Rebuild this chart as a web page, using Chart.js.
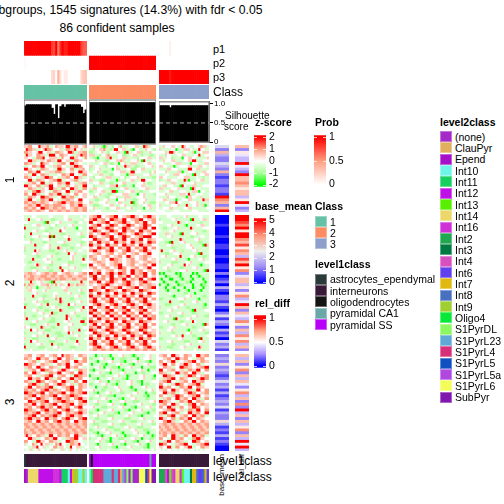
<!DOCTYPE html>
<html>
<head>
<meta charset="utf-8">
<script src="https://cdn.jsdelivr.net/npm/chart.js@4"></script>
<style>
html, body { margin: 0; padding: 0; background: #fff; }
#page { position: relative; width: 504px; height: 504px; overflow: hidden; font-family: "Liberation Sans", sans-serif; color: #000; }
#page canvas { position: absolute; }
.txt { position: absolute; white-space: nowrap; line-height: 1; }
.swatch { position: absolute; box-sizing: border-box; border: 1px solid rgba(255,255,255,0.35); }
</style>
</head>
<body>
<div id="page"></div>
<script>
// samples per class
const groupSizes = [30, 32, 24];

// consensus membership per sample (p1, p2, p3)
const p1Values = [
  [.97,1,1,1,1,1,1,1,1,1,1,1,1,.82,.78,1,.6,.85,1,.9,.9,1,1,1,1,1,1,.8,.72,.7],
  [0,0,0,0,0,0,0,0,0,0,0,0,0,0,0,0,0,0,0,0,0,0,0,0,0,0,0,0,0,0,0,0],
  [0,0,0,0,0,.07,0,0,0,0,0,0,0,0,0,0,0,0,0,0,0,0,0,0]
];
const p2Values = [
  [.03,0,0,0,0,0,0,0,0,0,0,0,0,0,0,0,0,0,0,0,0,0,0,0,0,0,0,0,0,0],
  [1,1,1,1,1,1,1,1,1,1,1,1,1,1,1,1,1,1,1,1,1,1,1,1,1,1,1,1,1,1,1,1],
  [0,0,0,0,0,0,0,0,0,0,0,0,0,0,0,0,0,0,0,0,0,0,0,0]
];
const p3Values = [
  [0,0,0,0,0,0,0,0,0,0,0,0,0,.18,.22,0,.4,.15,0,.1,.1,0,0,0,0,0,0,.2,.28,.3],
  [0,0,0,0,0,0,0,0,0,0,0,0,0,0,0,0,0,0,0,0,0,0,0,0,0,0,0,0,0,0,0,0],
  [1,1,1,1,1,.93,1,1,1,1,1,1,1,1,1,1,1,1,1,1,1,1,1,1]
];

const silhouette1 = [.91,.94,.94,.94,.94,.94,.94,.94,.94,.94,.94,.94,.94,.855,.71,.94,.61,.895,.94,.88,.94,.94,.94,.94,.94,.94,.94,.88,.73,.815];
const silhouette2 = [.99,.99,.99,.99,.99,.99,.99,.99,.99,.99,.99,.99,.99,.99,.99,.99,.99,.99,.99,.99,.99,.99,.99,.99,.99,.99,.99,.99,.99,.99,.99,.99];
const silhouette3 = [.95,.95,.95,.95,.95,.9,.95,.95,.95,.95,.95,.95,.95,.95,.95,.95,.95,.95,.95,.95,.95,.95,.95,.95];

// z-score per row, one digit per cell: 0 = -2, 4 = 0, 8 = +2 (class 1, class 2, class 3)
const heatSlice1 = [
  "556644485556334655548855664456 44533320533244563334445533865344 335444554338544334456553",
  "486655334586654445336655844533 33244556332388445533204433354432 533333440333555433384433",
  "665544588445533665544886335566 22334453324445533083344552333544 444538854333443350334555",
  "385544665533888446655443355866 55533244563333442233455332333223 333544333445533334483344",
  "554433666844555533644488554436 33220433558333445533333244445533 553344233330445544333335",
  "448855335546655388445533665544 44453333224445565333444530833344 335444553333445588333444",
  "665533448655443355664488554433 33333445532233044533555333445533 443333445553333044433355",
  "334466558844335566443355886644 55344333244445333855332233344453 554433303344445533355443",
  "885544336655443388554466335564 23344533333045533344222445533333 333355444333338844553333",
  "446655884433555666334455448855 33445332233344455533884443333245 444533333550334443333554",
  "553388446655333344665588443366 44333553332244433305553333444533 333443355544433308334455",
  "665544335588664433556644885533 33244433555333344233444533333322 554433333444555333433233",
  "448833665544556688334455663344 55333222443330533344553338844433 233355444333850333445533",
  "335566448833554466558844335566 33444553332233445533333444532233 444333553333344445333333",
  "885544663355884455336644553388 44233333445558332233304445533333 335544433308433355333444",
  "446655335544885533664488553366 33554443332223344553333344455333 553333444533333085443333",
  "553366885544336655448833556644 22334455333880333444553322333444 333445533344433355504433",
  "664488553344665588335544664455 33344533322334445553333044533332 444533333355548333444333",
  "336655448866553344885566334455 44553333224445333555333444533333 333354443333305544335333",
  "558844336655884433556655448844 33322334453330444533322344453333 445533330334445533333855",
  "665566556655445566885566556644 55333444533334553333803344533222 333445558443333444533333",
  "556655885566556666554466558855 33222334445533344533322333445533 533333444533383344533503",
  "665566448866556655664455665566 44533333224445533344533333044533 334445533333445533333334",
  "556655665544665566556655665566 33344433333333444333333443333333 444333344433333344433333"
];

const heatSlice2 = [
  "333344333333443333344333333433 55668844556688445566885544668855 333344333333453333344333",
  "338333445333322333344553333334 66885566448866558844556688445566 233333445333333083334553",
  "443333333208333445333333224433 88445566884455668855446655884466 443333333853343333332333",
  "233344553333344233333445333333 45668844558866445588664455886644 333344533333203333445533",
  "833333334433223333453333204433 88664455886644558866445566884488 332233344533333853333444",
  "333344533322333338443333333333 55886644558866448855664488556644 433334453333333343333223",
  "333833333444533333223333344533 66445588664455886644558866445588 333553333308333444533333",
  "233344453333808333344533333223 88664455668844558866445566888844 333344533333333223334433",
  "333223333444533333333853333344 44886655448866558844665588446655 443333333385333334453333",
  "444533333223333344453333333223 66448855664488556644885566448866 333220833344533333322333",
  "333338333344533333222333344533 88556644885566448855664488556644 333344533333344533333085",
  "533333333444533385333322333344 55448866558844665588446655884466 333333223333344453333333",
  "233338453333222333345333334433 66885544668855446688554466885544 383334453332333344533333",
  "333344533333333223333844533333 44556644556644556644556644558844 333223344453333333208333",
  "433333223334453333333345333322 66554455664455664488554455665544 344533333383333445333223",
  "333383333445333322333345333383 55664455448866554455664455664455 333333445333320333344533",
  "332233333344453333333222333344 44556655445566554455665544556655 533333222333344533333344",
  "433334853333223333444533333222 88445566445566884455664455664488 333344533333845333320333",
  "333222333445333338333344533333 55664455664455886644556644558844 334453333322333344533333",
  "333344533333223333844533333344 44556644556644556644885566445566 333322333344453333333208",
  "556655445566556644556655445566 88558844668855886644885566884466 020333330203333302033333",
  "655665556665566556655665556655 66884466558844665588446655884455 333022333203333033202333",
  "556665565566655656665556655566 44885566448866558844665588446688 203330033320333203333033",
  "333833445333208333443333333833 66558844668855446688554466885544 330233330233322033333203",
  "636553345556353645534855365553 55445566885544556688554466556655 033203333022333303330223",
  "353533033335533333445533333333 44665588445566884455668844556688 333033203333033302333033",
  "335544333453333333355333334533 88665544886655448866554488665544 333203333033320333320333",
  "333344533333334433333453333223 66448855664488556644885566448866 333334333333223330333333",
  "333383333223334533333333445333 88556644885566448855664488556644 333333203333344533333223",
  "533333344533333638333322333333 55884466558844665588446655884466 223333333444533333203333",
  "333344533222333338533333344533 66885544668855446688554466885544 333338333322333344533333",
  "223333445338333322333844533333 44668855446688554466885544668855 333222333344533333333203",
  "833333322333344533333222333384 88446655884466558844665588446655 533333344533322333333223",
  "333344533322333338533333344533 66884455668844556688445566884455 333344533333333208333344",
  "233333344533382233333344533333 88556644885566448855664488556644 223333333445333322333333",
  "533322333344533333338533322333 44885566448855664488556644885566 333445333322333344533322",
  "383333344533322333338453333322 66448855664488556644885566448866 333333308333344533333333",
  "333344533333222333344533333883 88665544886655448866554488665544 334453333322333384333333",
  "333222333345333383333445333322 55884466558844665588446655884466 333333223334453333333085",
  "544333338533322333344533333344 66558844668855446688554466885544 223334453333333322333344",
  "333844533322233333344533338333 88664455886644558866445588664455 333344533333320333344533",
  "233333344533333222333845333334 44886655448866554488665544886655 533333223333344533333322",
  "333344533338333322233333445333 66448855664488556644885566448866 333333445338333322333334",
  "533322233333344533333322233334 88556644885566448855664488556644 223333333445333333208333",
  "333844533333222333345333383333 55884466558844665588446655884466 333344533333222333344533",
  "233333445333383322233333445333 66885544668855446688554466885544 333333223333344533333333",
  "833333322233334453333322233333 44668855446688554466885544668855 533322233344533333385333",
  "333433333343333334333334333333 55665566556655665566556655665566 333343333334333334333333"
];

const heatSlice3 = [
  "556644556644556644856655446655 33303323320333445333202333344533 556644885544665544885566",
  "665544885566445588446655334466 22333445333033322233333033444533 445566448855664433556644",
  "445566334455668844556644885566 33320333344533322033344533322033 664455883344556688446655",
  "886655446655334466558844556644 30333322033334453332203333445333 558844664455885544663344",
  "556644885544665533448855664433 33344530333222033344533330333222 446655334488665544556688",
  "335566448866554455885544336655 22033333445333220333333445330333 884455664455336655884466",
  "664488554433665588445566448855 33344533220333344533330332233344 665533448855664488553344",
  "556644335566884455664433886655 03333322333344533302333344533330 448866554433558866445566",
  "448855664488553366445588556644 33220333344533332203333344533322 335566884466554433558866",
  "665533886644556644885533664488 33344533303332233344533220333344 556688443355664488556644",
  "446688553366445588664455336655 22333344533220333344533330322333 664433558866445566883344",
  "558844665566883344556688446655 33403332233344533332033334453333 885566443366558844665544",
  "665566446688556655446688556644 44533322333334453333220333334453 556644885544665533884466",
  "886655668844665566884466556688 33220333445333322333344533303322 448855663344558866445566",
  "556688446655668844556688665544 33344533322203333344533333220333 664433558866445566884455",
  "665544886655446688556644668855 22333344533333220333445333322333 335566448855664488553366",
  "448866556688445566886655446688 33445333320333344533322233333445 886655443366558844665544",
  "665588446655668844556688446655 33322333344533322033333445333322 556644885544336688446655",
  "556644668855664488556644668844 44533322233333445333220333344533 664488553366445588664455",
  "886655446688556644668855446655 33320333344533333220333445333322 445566884455336655884466",
  "665566884466556688446655668855 22333445333322033334453333220333 668844556633448855664488",
  "556688446655668855446688556644 33445333322233333445333220333334 553366884455664488556633",
  "668855664488556644668855446688 33322333344533333222333344533333 885544663366558844665544",
  "556644885566446688556644885566 44533322233333445333222333334453 446688553344665588446655",
  "665566556655665566556655665566 33222333344533322233333445333322 556655665566556655665566",
  "566556655665566556655665566556 33345333322233333445333222333344 655665566556655665566556",
  "655665566556655665566556655665 22333344533322233333445333222333 565566556655665566556655",
  "665566556655665566556655665566 33220333445333320333344533320333 656655665566556655665566",
  "585544665533884466556644885533 34432203333445333022333344533302 556644885533664488556633",
  "448855334466558844335566884455 23334453330333222333445330333223 664433885566443366885544",
  "664433885544665533448866554433 33344533220333344533322033344533 335588446655334488664455",
  "534465348455334658443366558443 33320333344533322033334453320333 886644335566884433556688",
  "443355844533446635543384455334 33344533333220333344533333220333 554488336644558833446655",
  "343534354434353443534354434343 33334333343333343333433334333343 434344344343443443434344"
];

// base_mean per row, digit * 5/9
const baseMean1 = "426322432621221221976269";
const baseMean2 = "000100010011001001102012031022131024132031204231";
const baseMean3 = "2325232124231312324132253121312100";
// rel_diff per row, digit / 9
const relDiff1 = "625433943296676566359423";
const relDiff2 = "998795997685763869572466352573496264375263757362";
const relDiff3 = "6362572636425736272936263572639493";

// class membership of the samples along the bottom, as runs of [name, count]
const level1Runs = [
  [["astrocytes_ependymal",1],["interneurons",29]],
  [["pyramidal SS",1],["oligodendrocytes",1],["pyramidal SS",27],["pyramidal CA1",1],["pyramidal SS",2]],
  [["interneurons",24]]
];
const level2Runs = [
  [["Epend",1],["(none)",1],["Int14",5],["Int12",7],["Int16",3],["Int12",1],["Int11",3],["Int10",1],["Int12",1],["Int7",1],["Int9",2],["Int10",2],["Int9",1],["Int10",1]],
  [["Int10",1],["Oligo4",1],["S1PyrL4",5],["S1PyrL23",4],["S1PyrL4",1],["S1PyrL23",2],["S1PyrL4",1],["ClauPyr",1],["S1PyrL23",1],["S1PyrL5a",1],["S1PyrDL",1],["(none)",1],["S1PyrDL",1],["(none)",3],["S1PyrL6",3],["S1PyrL5",1],["S1PyrL4",1],["S1PyrL6",1],["SubPyr",2]],
  [["Int2",3],["Int4",1],["Int12",1],["Int13",1],["Int4",1],["Int16",1],["Int14",2],["Int16",1],["Int13",1],["Int10",3],["Int3",1],["Int7",2],["Int8",1],["Int6",2],["Int8",1],["Int7",1],["Int6",1]]
];

const classNames = ["1", "2", "3"];
const classColors = ["#66C2A5", "#FC8D62", "#8DA0CB"];
const level1Names = ["astrocytes_ependymal", "interneurons", "oligodendrocytes", "pyramidal CA1", "pyramidal SS"];
const level1Colors = ["#2A3A38", "#381A38", "#141414", "#6AA8A8", "#B800F8"];
const level2Names = ["(none)","ClauPyr","Epend","Int10","Int11","Int12","Int13","Int14","Int16","Int2","Int3","Int4","Int6","Int7","Int8","Int9","Oligo4","S1PyrDL","S1PyrL23","S1PyrL4","S1PyrL5","S1PyrL5a","S1PyrL6","SubPyr"];
const level2Colors = ["#A528C8","#E0B060","#A610C8","#6EF5EA","#15D060","#C010E8","#58F000","#ECD868","#D030D8","#1FA850","#007A40","#D850C0","#6040F0","#E0B810","#4870C0","#A0D030","#08E838","#8CF860","#60A8D8","#D83078","#1050C0","#B048E0","#F4FC58","#8018B0"];

// colour ramps
const zStops = [[-2,"#00FF00"],[-1,"#ADFF9C"],[0,"#FFFFFF"],[1,"#FF9E81"],[2,"#FF0000"]];
const probStops = [[0,"#FFFFFF"],[.5,"#FF9E81"],[1,"#FF0000"]];
const baseStops = [[0,"#0000FF"],[1.25,"#9F8DF5"],[2.5,"#EEEEEE"],[3.75,"#FB9A7E"],[5,"#FF0000"]];
const relStops = [[0,"#0000FF"],[.25,"#AB93FF"],[.5,"#FFFFFF"],[.75,"#FF9E81"],[1,"#FF0000"]];

// layout
const groupBoxes = [[24, 63], [89, 67], [159, 50]];
const sliceBoxes = [[145, 67], [215, 136], [354, 97]];

Chart.defaults.font.family = '"Liberation Sans", sans-serif';
Chart.defaults.animation = false;
Chart.defaults.responsive = false;
Chart.defaults.events = [];
Chart.defaults.plugins.legend.display = false;
Chart.defaults.plugins.tooltip.enabled = false;

const page = document.getElementById('page');

function addCanvas(left, top, w, h) {
    const c = document.createElement('canvas');
    c.width = w;
    c.height = h;
    c.style.left = left + 'px';
    c.style.top = top + 'px';
    c.style.width = w + 'px';
    c.style.height = h + 'px';
    page.appendChild(c);
    return c;
}

function label(text, x, y, size, opts) {
    opts = opts || {};
    const s = document.createElement('span');
    s.className = 'txt';
    s.textContent = text;
    s.style.left = x + 'px';
    s.style.top = y + 'px';
    s.style.fontSize = size + 'px';
    if (opts.bold) s.style.fontWeight = 'bold';
    s.style.transform = opts.transform || 'translateY(-50%)';
    if (opts.origin) s.style.transformOrigin = opts.origin;
    page.appendChild(s);
}

function hexRgb(h) {
    return [parseInt(h.slice(1, 3), 16), parseInt(h.slice(3, 5), 16), parseInt(h.slice(5, 7), 16)];
}

function ramp(stops, v) {
    if (v <= stops[0][0]) return stops[0][1];
    for (let i = 1; i < stops.length; i++) {
        if (v <= stops[i][0]) {
            const t = (v - stops[i - 1][0]) / (stops[i][0] - stops[i - 1][0]);
            const a = hexRgb(stops[i - 1][1]);
            const b = hexRgb(stops[i][1]);
            return 'rgb(' + a.map((x, k) => Math.round(x + (b[k] - x) * t)).join(',') + ')';
        }
    }
    return stops[stops.length - 1][1];
}

// one stacked bar per column, one dataset per row
function cellChart(box, colorRows) {
    const canvas = addCanvas(box[0], box[1], box[2], box[3]);
    return new Chart(canvas, {
        type: 'bar',
        data: {
            labels: colorRows[0].map((_, i) => i),
            datasets: colorRows.map(row => ({
                data: row.map(() => 1),
                backgroundColor: row,
                borderWidth: 0,
                barPercentage: 1,
                categoryPercentage: 1
            }))
        },
        options: {
            layout: { padding: 0 },
            scales: {
                x: { display: false, stacked: true },
                y: { display: false, stacked: true, reverse: true, min: 0, max: colorRows.length }
            }
        }
    });
}

function expandRuns(runs) {
    const out = [];
    runs.forEach(r => { for (let i = 0; i < r[1]; i++) out.push(r[0]); });
    return out;
}

// heatmap body
[heatSlice1, heatSlice2, heatSlice3].forEach((rows, s) => {
    groupBoxes.forEach((g, k) => {
        const n = groupSizes[k];
        const colors = rows.map(r => (r.split(' ')[k] + '3'.repeat(n)).slice(0, n).split('').map(d => ramp(zStops, (Number(d) - 4) / 2)));
        cellChart([g[0], sliceBoxes[s][0], g[1], sliceBoxes[s][1]], colors);
    });
});

// side annotations
[baseMean1, baseMean2, baseMean3].forEach((str, s) => {
    cellChart([215, sliceBoxes[s][0], 14, sliceBoxes[s][1]], str.split('').map(d => [ramp(baseStops, Number(d) * 5 / 9)]));
});
[relDiff1, relDiff2, relDiff3].forEach((str, s) => {
    cellChart([235, sliceBoxes[s][0], 14, sliceBoxes[s][1]], str.split('').map(d => [ramp(relStops, Number(d) / 9)]));
});

// top and bottom annotations
groupBoxes.forEach((g, k) => {
    const pRows = [p1Values[k], p2Values[k], p3Values[k]].map(r => r.map(v => ramp(probStops, v)));
    cellChart([g[0], 41, g[1], 43], pRows);
    cellChart([g[0], 85, g[1], 14], [new Array(groupSizes[k]).fill(classColors[k])]);
    cellChart([g[0], 454, g[1], 13], [expandRuns(level1Runs[k]).map(n => level1Colors[level1Names.indexOf(n)])]);
    cellChart([g[0], 469, g[1], 14], [expandRuns(level2Runs[k]).map(n => level2Colors[level2Names.indexOf(n)])]);
});

// silhouette panels
const silhouetteDecor = {
    id: 'silhouetteDecor',
    afterDatasetsDraw(chart) {
        const { ctx, chartArea: a, scales } = chart;
        const y = scales.y.getPixelForValue(0.5);
        ctx.save();
        ctx.strokeStyle = '#8a8a8a';
        ctx.lineWidth = 1.5;
        ctx.strokeRect(a.left, a.top, a.right - a.left, a.bottom - a.top);
        ctx.strokeStyle = '#aaaaaa';
        ctx.lineWidth = 1;
        ctx.setLineDash([4, 3]);
        ctx.beginPath();
        ctx.moveTo(a.left, y);
        ctx.lineTo(a.right, y);
        ctx.stroke();
        ctx.restore();
    }
};

[silhouette1, silhouette2, silhouette3].forEach((values, k) => {
    const g = groupBoxes[k];
    const withAxis = k === 2;
    const canvas = addCanvas(g[0], 96, g[1] + (withAxis ? 16 : 0), 52);
    new Chart(canvas, {
        type: 'bar',
        data: {
            labels: values.map((_, i) => i),
            datasets: [{ data: values, backgroundColor: '#000', barPercentage: 1, categoryPercentage: 1 }]
        },
        options: {
            layout: { padding: { top: 4, bottom: 4 } },
            scales: {
                x: { display: false },
                y: {
                    display: withAxis,
                    position: 'right',
                    min: 0,
                    max: 1.05,
                    afterFit: s => { s.width = withAxis ? 16 : 0; },
                    grid: { drawOnChartArea: false, tickLength: 4, color: '#000' },
                    border: { color: '#000' },
                    ticks: { stepSize: 0.5, includeBounds: false, padding: 1, color: '#000', font: { size: 8 } }
                }
            }
        },
        plugins: [silhouetteDecor]
    });
});

// colour bars with white tick dashes
const barDashes = {
    id: 'barDashes',
    afterDatasetsDraw(chart) {
        const { ctx, chartArea: a, scales } = chart;
        ctx.save();
        ctx.strokeStyle = 'rgba(255,255,255,0.75)';
        ctx.lineWidth = 1;
        scales.y.ticks.forEach(t => {
            const y = Math.round(scales.y.getPixelForValue(t.value)) + 0.5;
            ctx.beginPath();
            ctx.moveTo(a.left, y);
            ctx.lineTo(a.left + 3, y);
            ctx.moveTo(a.right - 3, y);
            ctx.lineTo(a.right, y);
            ctx.stroke();
        });
        ctx.restore();
    }
};

function colorBar(left, top, height, lo, hi, ticks, stops) {
    const canvas = addCanvas(left, top - 5, 12 + 30, height + 10);
    new Chart(canvas, {
        type: 'bar',
        data: {
            labels: [''],
            datasets: [{
                data: [[lo, hi]],
                barPercentage: 1,
                categoryPercentage: 1,
                backgroundColor(c) {
                    const chart = c.chart;
                    if (!chart.chartArea) return stops[0][1];
                    const y = chart.scales.y;
                    const a = stops[0][0];
                    const b = stops[stops.length - 1][0];
                    const grad = chart.ctx.createLinearGradient(0, y.getPixelForValue(a), 0, y.getPixelForValue(b));
                    stops.forEach(s => grad.addColorStop((s[0] - a) / (b - a), s[1]));
                    return grad;
                }
            }]
        },
        options: {
            layout: { padding: { top: 5, bottom: 5 } },
            scales: {
                x: { display: false },
                y: {
                    position: 'right',
                    min: lo,
                    max: hi,
                    afterFit: s => { s.width = 30; },
                    afterBuildTicks: s => { s.ticks = ticks.map(v => ({ value: v })); },
                    grid: { display: false, drawTicks: false },
                    border: { display: false },
                    ticks: { padding: 3, color: '#000', autoSkip: false, font: { size: 10.5 }, callback: v => String(v) }
                }
            }
        },
        plugins: [barDashes]
    });
}

colorBar(254, 131, 60, -2.18, 2.18, [2, 1, 0, -1, -2], zStops);
colorBar(314, 131, 60, -0.045, 1.045, [1, 0.5, 0], probStops);
colorBar(254, 214, 74, -0.12, 5.18, [5, 4, 3, 2, 1, 0], baseStops);
colorBar(254, 311, 61, -0.04, 1.07, [1, 0.5, 0], relStops);

// titles and labels
label("3 subgroups, 1545 signatures (14.3%) with fdr < 0.05", 119, 10, 12.2, { transform: 'translate(-50%,-50%)' });
label("86 confident samples", 117, 28, 12.2, { transform: 'translate(-50%,-50%)' });
label("p1", 213, 49, 11);
label("p2", 213, 63, 11);
label("p3", 213, 77, 11);
label("Class", 213, 92, 12);
label("Silhouette", 225, 116, 10);
label("score", 224, 127, 10);
label("level1class", 213, 461, 12);
label("level2class", 213, 477, 12);
[["1", 180], ["2", 283], ["3", 402]].forEach(t => {
    label(t[0], 10, t[1], 12, { transform: 'translate(-50%,-50%) rotate(-90deg)' });
});
label("base_mean", 222, 454, 8, { transform: 'rotate(-90deg) translateX(-100%) translateY(-50%)', origin: '0 0' });
label("rel_diff", 242, 454, 8, { transform: 'rotate(-90deg) translateX(-100%) translateY(-50%)', origin: '0 0' });

label("z-score", 255, 122, 10.5, { bold: true });
label("Prob", 315, 122, 10.5, { bold: true });
label("base_mean", 255, 206, 10.5, { bold: true });
label("rel_diff", 255, 303, 10.5, { bold: true });
label("Class", 315, 206, 10.5, { bold: true });
label("level1class", 315, 264, 10.5, { bold: true });
label("level2class", 440, 122, 10.5, { bold: true });

function legendColumn(names, colors, x, top, step) {
    names.forEach((n, i) => {
        const d = document.createElement('div');
        d.className = 'swatch';
        d.style.left = x + 'px';
        d.style.top = (top + i * step) + 'px';
        d.style.width = '12px';
        d.style.height = Math.round(step) + 'px';
        d.style.background = colors[i];
        page.appendChild(d);
        label(n, x + 15, top + i * step + step / 2, 10.5);
    });
}
legendColumn(classNames, classColors, 315, 216, 11.2);
legendColumn(level1Names, level1Colors, 315, 273.5, 11.4);
legendColumn(level2Names, level2Colors, 440, 131, 11.33);
</script>
</body>
</html>
